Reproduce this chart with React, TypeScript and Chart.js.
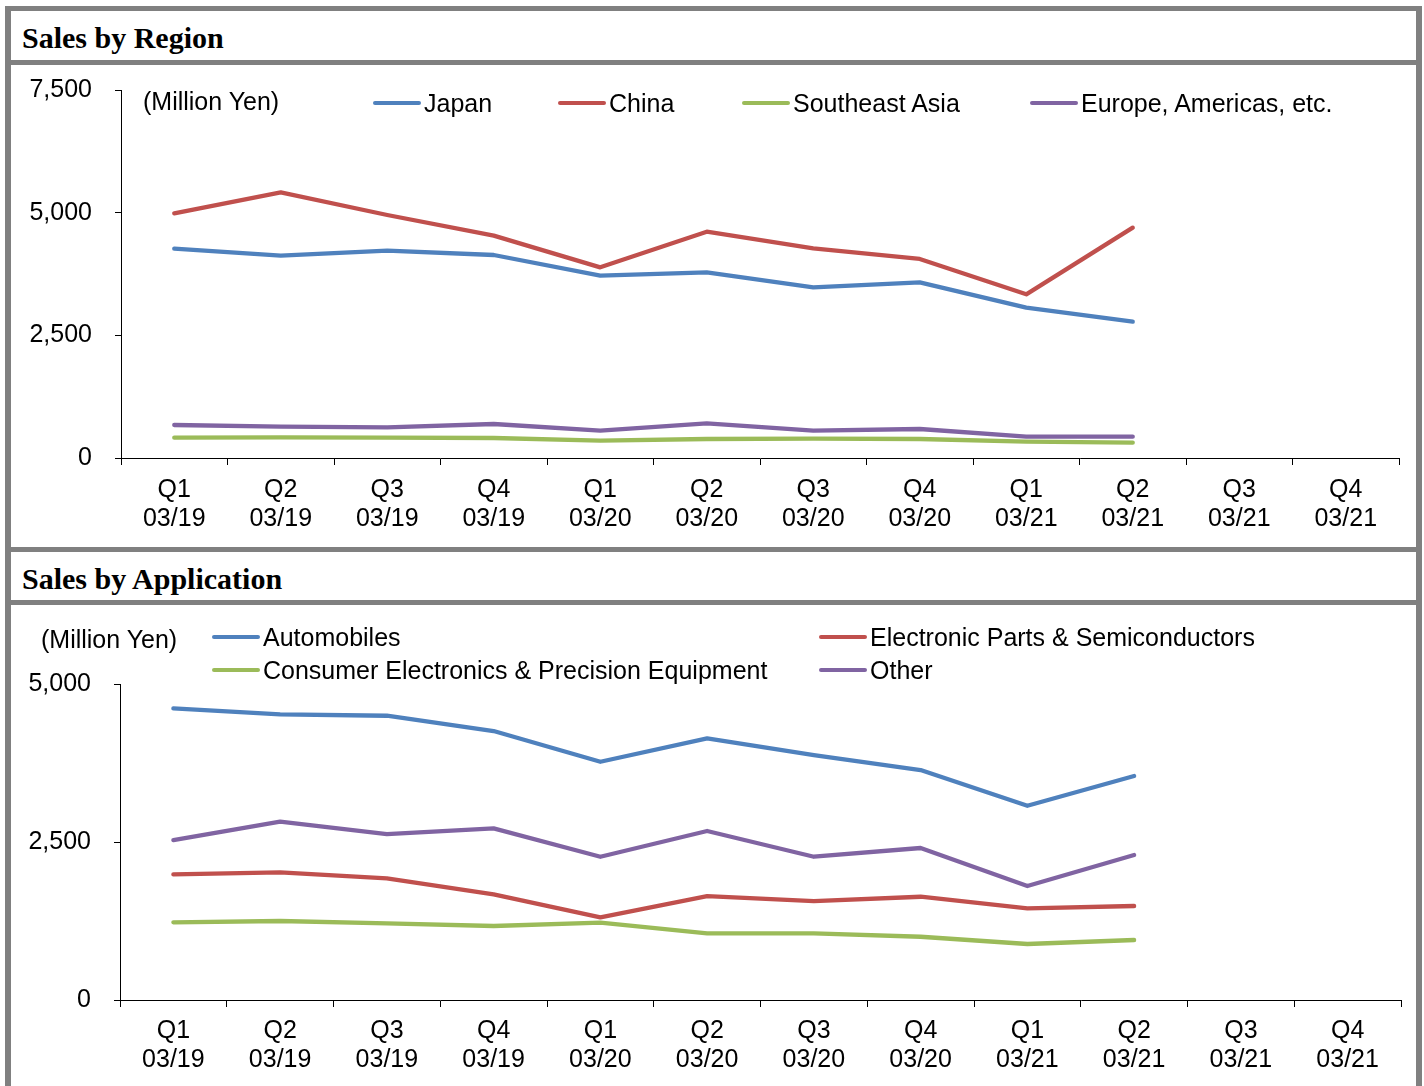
import React, { useEffect, useRef } from "react";
import { Chart, registerables } from "chart.js";

Chart.register(...registerables);

const SANS = "'Liberation Sans', Arial, sans-serif";
const SERIF = "'Liberation Serif', 'Times New Roman', serif";

const quarterLabels: string[][] = [
  ["Q1", "03/19"], ["Q2", "03/19"], ["Q3", "03/19"], ["Q4", "03/19"],
  ["Q1", "03/20"], ["Q2", "03/20"], ["Q3", "03/20"], ["Q4", "03/20"],
  ["Q1", "03/21"], ["Q2", "03/21"], ["Q3", "03/21"], ["Q4", "03/21"],
];

// Sales by Region (Million Yen)
const japan = [4266, 4123, 4225, 4137, 3715, 3785, 3479, 3581, 3063, 2778, null, null];
const china = [4987, 5415, 4952, 4531, 3886, 4612, 4274, 4056, 3336, 4694, null, null];
const southeastAsia = [414, 422, 414, 408, 353, 387, 393, 387, 332, 312, null, null];
const europeAmericas = [673, 638, 626, 693, 556, 707, 556, 591, 434, 434, null, null];

// Sales by Application (Million Yen)
const automobiles = [4614, 4520, 4498, 4256, 3770, 4140, 3876, 3639, 3074, 3544, null, null];
const electronicParts = [1988, 2020, 1925, 1672, 1308, 1645, 1566, 1634, 1451, 1487, null, null];
const consumerElectronics = [1229, 1250, 1213, 1171, 1223, 1055, 1055, 1001, 886, 949, null, null];
const otherApps = [2531, 2821, 2626, 2716, 2267, 2674, 2267, 2405, 1803, 2294, null, null];

const regionTicks = { max: 7500, step: 2500 };
const appTicks = { max: 5000, step: 2500 };

const BLUE = "#4F81BD";
const RED = "#C0504D";
const GREEN = "#9BBB59";
const PURPLE = "#8064A2";
const GRAY = "#808080";

type Series = { label: string; data: (number | null)[]; color: string };

const regionSeries: Series[] = [
  { label: "Japan", data: japan, color: BLUE },
  { label: "China", data: china, color: RED },
  { label: "Southeast Asia", data: southeastAsia, color: GREEN },
  { label: "Europe, Americas, etc.", data: europeAmericas, color: PURPLE },
];

const appSeries: Series[] = [
  { label: "Automobiles", data: automobiles, color: BLUE },
  { label: "Electronic Parts & Semiconductors", data: electronicParts, color: RED },
  { label: "Consumer Electronics & Precision Equipment", data: consumerElectronics, color: GREEN },
  { label: "Other", data: otherApps, color: PURPLE },
];

type ChartProps = {
  width: number;
  height: number;
  series: Series[];
  yMax: number;
  yStep: number;
  padTop: number;
  padRight: number;
  yWidth: number;
  xHeight: number;
  xPad: number;
};

function LineChart(p: ChartProps) {
  const ref = useRef<HTMLCanvasElement | null>(null);
  useEffect(() => {
    if (!ref.current) return;
    const chart = new Chart(ref.current, {
      type: "line",
      data: {
        labels: quarterLabels,
        datasets: p.series.map((s) => ({
          label: s.label,
          data: s.data,
          borderColor: s.color,
          backgroundColor: s.color,
          borderWidth: 4.3,
          pointRadius: 0,
          pointHoverRadius: 0,
          tension: 0,
          fill: false,
          spanGaps: false,
          borderCapStyle: "round",
          borderJoinStyle: "round",
        })),
      },
      options: {
        responsive: false,
        animation: false,
        locale: "en-US",
        events: [],
        layout: { padding: { top: p.padTop, right: p.padRight, left: 0, bottom: 0 } },
        plugins: {
          legend: { display: false },
          tooltip: { enabled: false },
          title: { display: false },
        },
        scales: {
          x: {
            type: "category",
            offset: true,
            grid: {
              offset: true,
              drawOnChartArea: false,
              drawTicks: true,
              tickLength: 7,
              color: "#000",
              lineWidth: 1,
            },
            border: { display: true, color: "#000", width: 1 },
            ticks: {
              color: "#000",
              font: { family: SANS, size: 25, lineHeight: 1.16 },
              padding: p.xPad,
              maxRotation: 0,
              minRotation: 0,
              autoSkip: false,
            },
            afterFit: (s: any) => {
              s.height = p.xHeight;
              s.paddingLeft = 0;
              s.paddingRight = 0;
              s.paddingTop = 0;
              s.paddingBottom = 0;
            },
          },
          y: {
            min: 0,
            max: p.yMax,
            grid: {
              drawOnChartArea: false,
              drawTicks: true,
              tickLength: 6,
              color: "#000",
              lineWidth: 1,
            },
            border: { display: true, color: "#000", width: 1 },
            ticks: {
              stepSize: p.yStep,
              color: "#000",
              padding: 23,
              font: { family: SANS, size: 25 },
            },
            afterFit: (s: any) => {
              s.width = p.yWidth;
              s.paddingTop = 0;
              s.paddingBottom = 0;
              s.paddingLeft = 0;
              s.paddingRight = 0;
            },
          },
        },
      } as any,
    });
    return () => chart.destroy();
  }, []);
  return (
    <canvas
      ref={ref}
      width={p.width}
      height={p.height}
      style={{ display: "block", width: p.width, height: p.height }}
    />
  );
}

function LegendItem({ left, center, color, text }: { left: number; center: number; color: string; text: string }) {
  return (
    <div
      style={{
        position: "absolute",
        left,
        top: center - 15,
        height: 30,
        display: "flex",
        alignItems: "center",
        whiteSpace: "nowrap",
        fontFamily: SANS,
        fontSize: 25,
        lineHeight: "30px",
        color: "#000",
      }}
    >
      <span
        style={{
          display: "inline-block",
          width: 48,
          height: 4,
          borderRadius: 2,
          background: color,
          marginRight: 3,
        }}
      />
      <span>{text}</span>
    </div>
  );
}

function UnitLabel({ left, center }: { left: number; center: number }) {
  return (
    <div
      style={{
        position: "absolute",
        left,
        top: center - 15,
        height: 30,
        lineHeight: "30px",
        fontFamily: SANS,
        fontSize: 25,
        color: "#000",
        whiteSpace: "nowrap",
      }}
    >
      (Million Yen)
    </div>
  );
}

function TitleBar({ top, height, text }: { top: number; height: number; text: string }) {
  return (
    <div
      style={{
        position: "absolute",
        left: 11,
        top,
        width: 1405,
        height,
        background: "#fff",
      }}
    >
      <div
        style={{
          position: "absolute",
          left: 11,
          top: 3,
          height: 48,
          lineHeight: "48px",
          fontFamily: SERIF,
          fontWeight: "bold",
          fontSize: 30,
          color: "#000",
          whiteSpace: "nowrap",
        }}
      >
        {text}
      </div>
    </div>
  );
}

export default function App() {
  return (
    <div
      style={{
        position: "absolute",
        left: 0,
        top: 0,
        width: 1424,
        height: 1086,
        background: "#fff",
        overflow: "hidden",
      }}
    >
      <div style={{ position: "absolute", left: 5, top: 6, width: 1417, height: 1100, background: GRAY }} />
      <TitleBar top={11} height={49} text="Sales by Region" />
      <div style={{ position: "absolute", left: 11, top: 65, width: 1405, height: 482, background: "#fff" }}>
        <LineChart
          width={1405}
          height={482}
          series={regionSeries}
          yMax={regionTicks.max}
          yStep={regionTicks.step}
          padTop={25}
          padRight={17}
          yWidth={110}
          xHeight={89}
          xPad={11}
        />
      </div>
      <TitleBar top={552} height={48} text="Sales by Application" />
      <div style={{ position: "absolute", left: 11, top: 605, width: 1405, height: 481, background: "#fff" }}>
        <LineChart
          width={1405}
          height={481}
          series={appSeries}
          yMax={appTicks.max}
          yStep={appTicks.step}
          padTop={79}
          padRight={15}
          yWidth={109}
          xHeight={86}
          xPad={10}
        />
      </div>

      <UnitLabel left={143} center={101} />
      <LegendItem left={373} center={103} color={BLUE} text={regionSeries[0].label} />
      <LegendItem left={558} center={103} color={RED} text={regionSeries[1].label} />
      <LegendItem left={742} center={103} color={GREEN} text={regionSeries[2].label} />
      <LegendItem left={1030} center={103} color={PURPLE} text={regionSeries[3].label} />

      <UnitLabel left={41} center={639} />
      <LegendItem left={212} center={637} color={BLUE} text={appSeries[0].label} />
      <LegendItem left={819} center={637} color={RED} text={appSeries[1].label} />
      <LegendItem left={212} center={670} color={GREEN} text={appSeries[2].label} />
      <LegendItem left={819} center={670} color={PURPLE} text={appSeries[3].label} />
    </div>
  );
}
